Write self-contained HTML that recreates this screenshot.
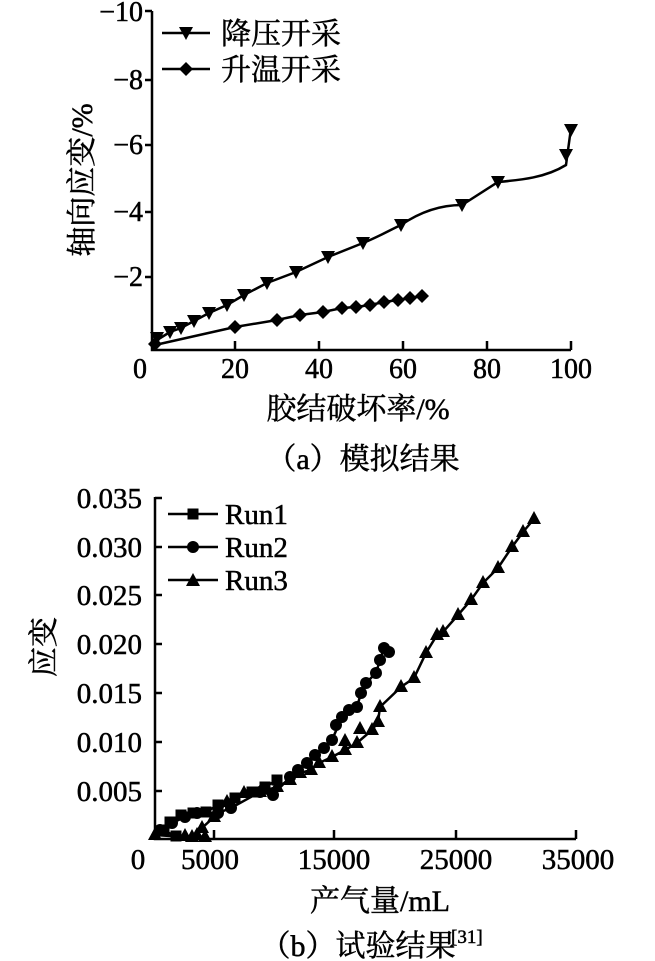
<!DOCTYPE html>
<html><head><meta charset="utf-8"><style>
html,body{margin:0;padding:0;background:#fff}
svg{display:block}
text{font-family:"Liberation Serif","Noto Serif CJK SC",serif;fill:#000;stroke:#000;stroke-width:0.5}
</style></head><body>
<svg width="655" height="961" viewBox="0 0 655 961" xmlns="http://www.w3.org/2000/svg">
<defs>
<path id="tv" d="M-7,-6 L7,-6 L0,7 Z"/>
<path id="tu" d="M-7,6 L7,6 L0,-7 Z"/>
<path id="dm" d="M0,-7 L7,0 L0,7 L-7,0 Z"/>
<rect id="sq" x="-5.5" y="-5.5" width="11" height="11"/>
<circle id="ci" r="6"/>
</defs>
<g stroke="#000" stroke-width="2.5" fill="none">
<path d="M152,11 V350 H571"/>
<path d="M145,11 H152 M145,80 H152 M145,145 H152 M145,212 H152 M145,277 H152"/>
<path d="M235,350 V341 M319,350 V341 M403,350 V341 M487,350 V341 M571,350 V341"/>
<path d="M155,497 V839 H576"/>
<path d="M155,498 H162 M155,547 H162 M155,595 H162 M155,644 H162 M155,693 H162 M155,742 H162 M155,791 H162"/>
<path d="M214,839 V830 M334,839 V830 M456,839 V830 M576,839 V830"/>
</g>
<g font-size="28" text-anchor="end">
<text x="143" y="21">−10</text><text x="143" y="89">−8</text><text x="143" y="154">−6</text>
<text x="143" y="221">−4</text><text x="143" y="286">−2</text>
</g>
<g font-size="28" text-anchor="middle">
<text x="140" y="378">0</text><text x="235" y="378">20</text><text x="319" y="378">40</text>
<text x="403" y="378">60</text><text x="487" y="378">80</text><text x="571" y="378">100</text>
</g>
<g font-size="30" text-anchor="middle">
<text x="358" y="419">胶结破坏率/%</text>
<text x="363" y="469">（a）模拟结果</text>
</g>
<text font-size="30" text-anchor="middle" transform="translate(92,180) rotate(-90)">轴向应变/%</text>
<g stroke="#000" stroke-width="2.5"><path d="M162,33 H210 M162,69 H210"/></g>
<use href="#tv" x="186" y="33"/><use href="#dm" x="186" y="69"/>
<text x="221" y="44" font-size="30">降压开采</text>
<text x="221" y="80" font-size="30">升温开采</text>
<path fill="none" stroke="#000" stroke-width="2.5" d="M157,340 L170,332 L181,328 L194,321 L209,313 L227,305 L244,295 L267,283 L296,272 L328,257 L363,243 C380,236 390,230 401,225 C420,212 440,205 462,205 L498,182 C520,180 545,178 566,165 L571,128"/>
<g>
<use href="#tv" x="157" y="338"/><use href="#tv" x="170" y="332"/><use href="#tv" x="181" y="328"/>
<use href="#tv" x="194" y="321"/><use href="#tv" x="209" y="313"/><use href="#tv" x="227" y="305"/>
<use href="#tv" x="244" y="295"/><use href="#tv" x="267" y="283"/><use href="#tv" x="296" y="272"/>
<use href="#tv" x="328" y="257"/><use href="#tv" x="363" y="243"/><use href="#tv" x="401" y="225"/>
<use href="#tv" x="462" y="205"/><use href="#tv" x="498" y="182"/><use href="#tv" x="566" y="155"/>
<use href="#tv" x="571" y="130"/>
</g>
<path fill="none" stroke="#000" stroke-width="2.5" d="M155,345 L235,327 L277,320 L300,315 L323,312 L342,308 L356,307 L370,305 L384,302 L398,300 L410,298 L422,296"/>
<g>
<use href="#dm" x="155" y="344"/><use href="#dm" x="235" y="327"/><use href="#dm" x="277" y="320"/>
<use href="#dm" x="300" y="315"/><use href="#dm" x="323" y="312"/><use href="#dm" x="342" y="308"/>
<use href="#dm" x="356" y="307"/><use href="#dm" x="370" y="305"/><use href="#dm" x="384" y="302"/>
<use href="#dm" x="398" y="300"/><use href="#dm" x="410" y="298"/><use href="#dm" x="422" y="296"/>
</g>
<g font-size="29" text-anchor="end">
<text x="142" y="508">0.035</text><text x="142" y="557">0.030</text><text x="142" y="605">0.025</text>
<text x="142" y="654">0.020</text><text x="142" y="703">0.015</text><text x="142" y="752">0.010</text>
<text x="142" y="801">0.005</text>
</g>
<g font-size="29" text-anchor="middle">
<text x="138" y="869">0</text><text x="210" y="869">5000</text><text x="334" y="869">15000</text>
<text x="456" y="869">25000</text><text x="578" y="869">35000</text>
</g>
<g font-size="30" text-anchor="middle">
<text x="380" y="911">产气量/mL</text>
<text x="358" y="956">（b）试验结果</text>
</g>
<text x="451" y="943" font-size="19">[31]</text>
<text font-size="30" text-anchor="middle" transform="translate(54,647) rotate(-90)">应变</text>
<g stroke="#000" stroke-width="2.5"><path d="M168,514 H218 M168,547 H218 M168,580 H218"/></g>
<use href="#sq" x="193" y="514"/><use href="#ci" x="193" y="547"/><use href="#tu" x="193" y="580"/>
<g font-size="29"><text x="225" y="524">Run1</text><text x="225" y="557">Run2</text><text x="225" y="590">Run3</text></g>
<g fill="none" stroke="#000" stroke-width="2.5">
<path d="M155,835 L185,837 L197,835 L202,828 L214,817 L227,802 L244,793 L260,792 L277,787 L290,780 L300,773 L311,770 L319,763 L332,757 L345,750 L357,743 L372,730 L378,722 L380,707 L401,687 L414,678 L426,653 L437,635 L443,632 L458,615 L471,600 L483,583 L498,568 L512,547 L523,532 L534,519"/>
<path d="M160,830 L172,823 L185,817 L197,813 L218,813 L231,808 L260,792 L273,795 L290,777 L298,770 L307,763 L315,755 L324,748 L332,740 L342,717 L349,710 L357,707 L361,693 L366,683 L376,673 L380,660 L384,648 L389,652"/>
<path d="M176,837 L164,830 L170,822 L181,815 L193,813 L206,812 L218,805 L235,798 L252,792 L265,787 L277,780"/>
</g>
<g>
<use href="#tu" x="155" y="834"/><use href="#tu" x="185" y="835"/><use href="#tu" x="197" y="834"/><use href="#tu" x="202" y="827"/>
<use href="#tu" x="214" y="816"/><use href="#tu" x="227" y="801"/><use href="#tu" x="244" y="792"/><use href="#tu" x="260" y="791"/>
<use href="#tu" x="277" y="786"/><use href="#tu" x="290" y="779"/><use href="#tu" x="300" y="772"/><use href="#tu" x="311" y="769"/>
<use href="#tu" x="319" y="762"/><use href="#tu" x="332" y="756"/><use href="#tu" x="345" y="749"/><use href="#tu" x="345" y="740"/>
<use href="#tu" x="357" y="742"/><use href="#tu" x="360" y="728"/><use href="#tu" x="372" y="729"/><use href="#tu" x="378" y="721"/>
<use href="#tu" x="380" y="706"/><use href="#tu" x="401" y="686"/><use href="#tu" x="414" y="677"/><use href="#tu" x="426" y="652"/>
<use href="#tu" x="437" y="634"/><use href="#tu" x="443" y="631"/><use href="#tu" x="458" y="614"/><use href="#tu" x="471" y="599"/>
<use href="#tu" x="483" y="582"/><use href="#tu" x="498" y="567"/><use href="#tu" x="512" y="546"/><use href="#tu" x="523" y="531"/>
<use href="#tu" x="534" y="518"/><use href="#tu" x="192" y="836"/><use href="#tu" x="205" y="836"/>
</g>
<g>
<use href="#ci" x="160" y="830"/><use href="#ci" x="172" y="823"/><use href="#ci" x="185" y="817"/><use href="#ci" x="197" y="813"/>
<use href="#ci" x="218" y="813"/><use href="#ci" x="231" y="808"/><use href="#ci" x="260" y="792"/><use href="#ci" x="273" y="795"/>
<use href="#ci" x="290" y="777"/><use href="#ci" x="298" y="770"/><use href="#ci" x="307" y="763"/><use href="#ci" x="315" y="755"/>
<use href="#ci" x="324" y="748"/><use href="#ci" x="332" y="740"/><use href="#ci" x="336" y="725"/><use href="#ci" x="342" y="717"/>
<use href="#ci" x="349" y="710"/><use href="#ci" x="357" y="707"/><use href="#ci" x="361" y="693"/><use href="#ci" x="366" y="683"/>
<use href="#ci" x="376" y="673"/><use href="#ci" x="380" y="660"/><use href="#ci" x="384" y="648"/><use href="#ci" x="389" y="652"/>
</g>
<g>
<use href="#sq" x="176" y="836"/><use href="#sq" x="164" y="830"/><use href="#sq" x="170" y="822"/><use href="#sq" x="181" y="815"/>
<use href="#sq" x="193" y="813"/><use href="#sq" x="206" y="812"/><use href="#sq" x="218" y="805"/><use href="#sq" x="235" y="798"/>
<use href="#sq" x="252" y="792"/><use href="#sq" x="265" y="787"/><use href="#sq" x="277" y="780"/>
</g>
</svg>
</body></html>
